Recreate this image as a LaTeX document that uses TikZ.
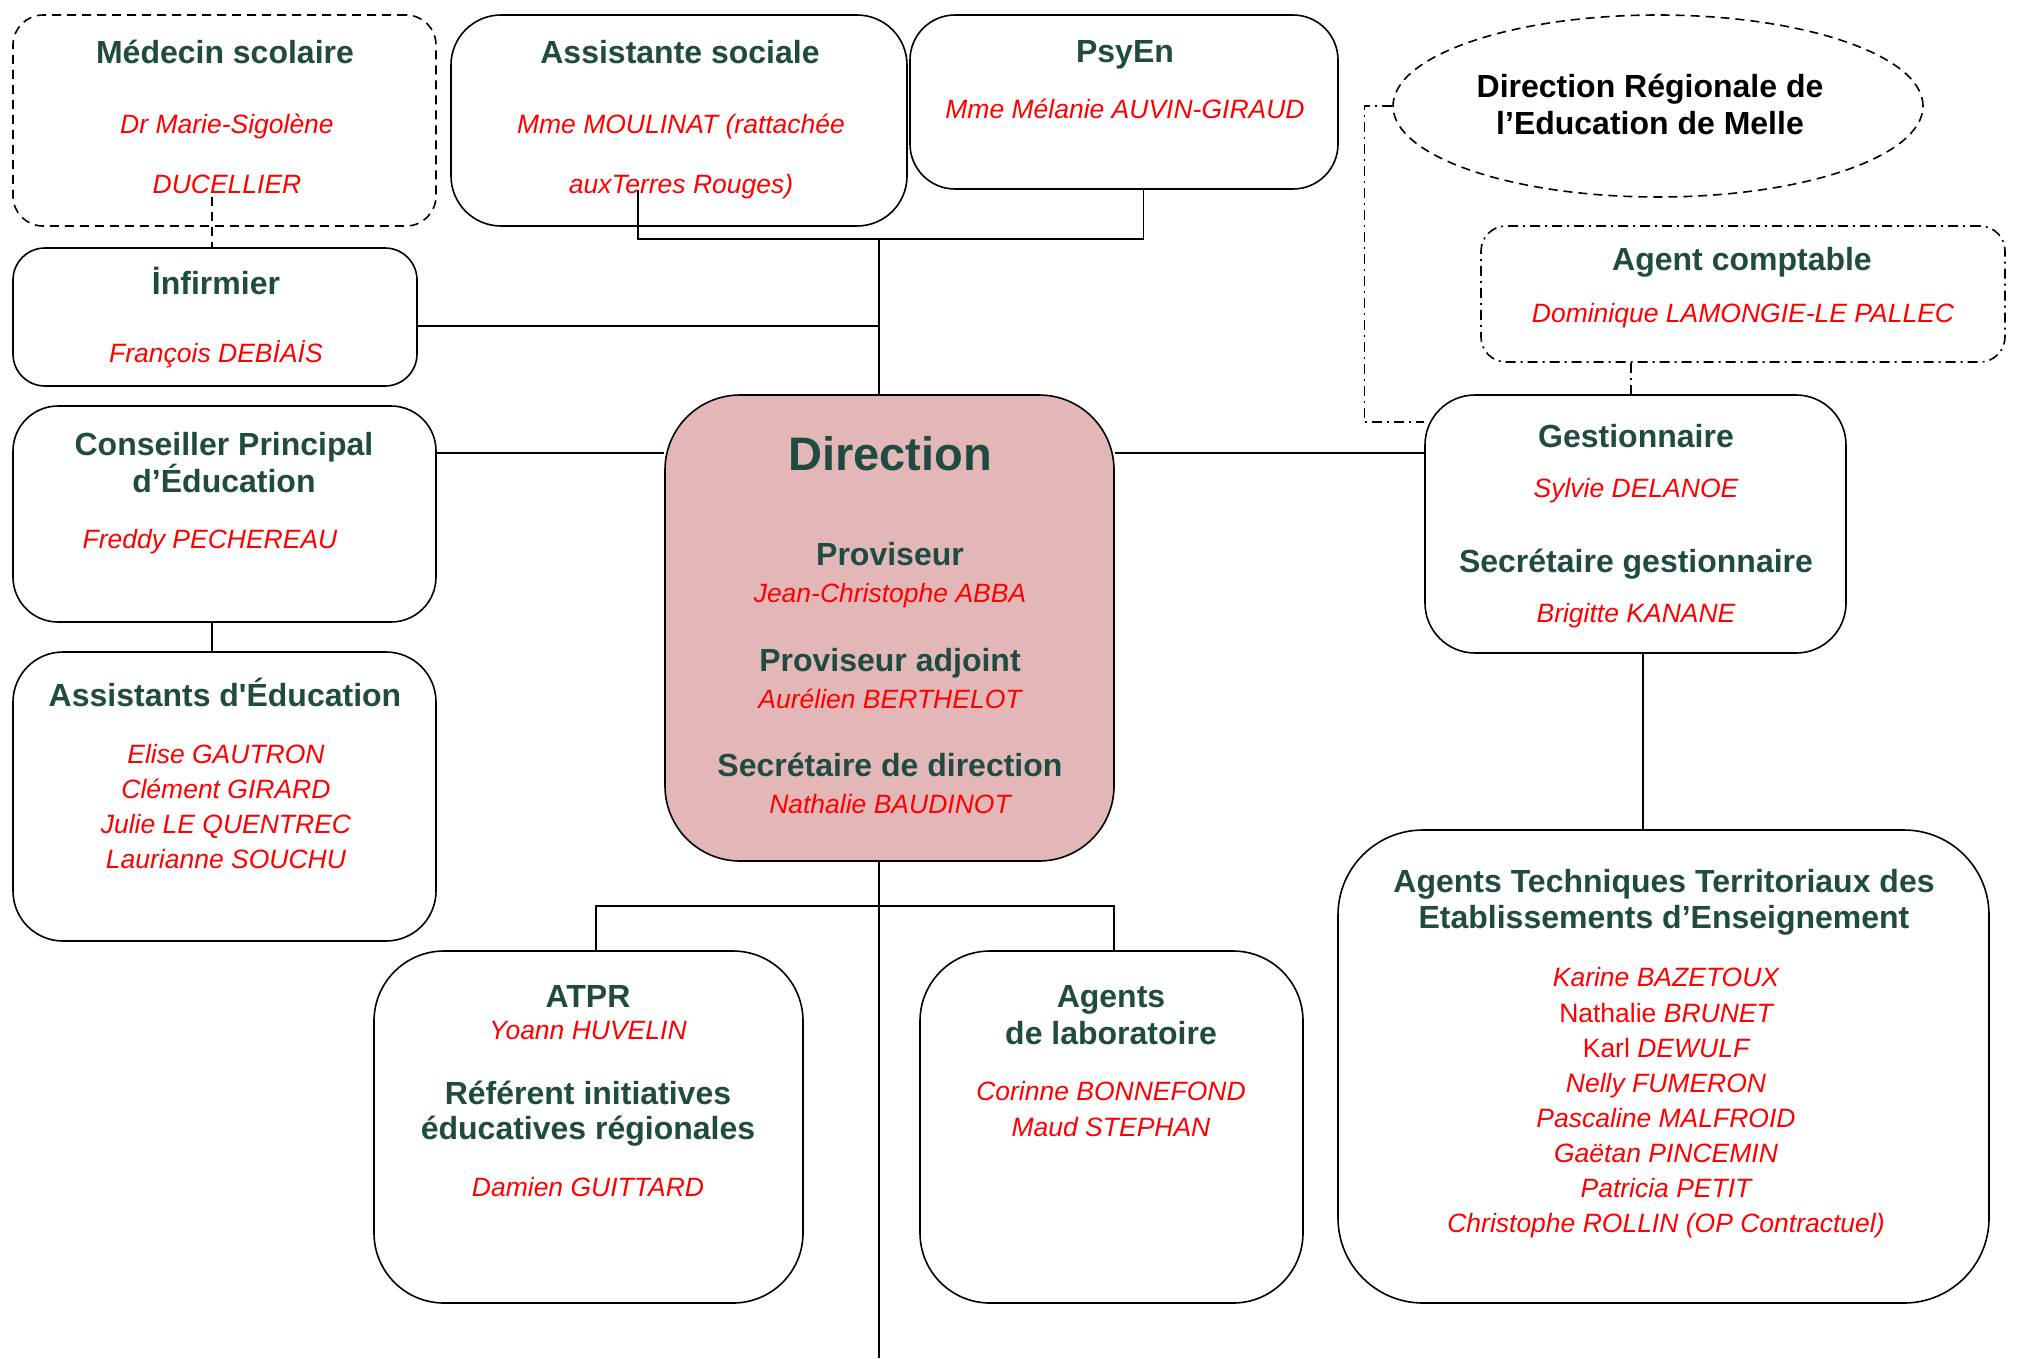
\documentclass[tikz,border=0pt]{standalone}
\usepackage{fontspec}
\setmainfont{Liberation Sans}
\newfontfamily\rawfont{Liberation Sans}[Ligatures=TeXOff]
\usetikzlibrary{shapes.geometric}
\definecolor{tgreen}{HTML}{1F4B40}
\definecolor{dirpink}{HTML}{E3B7B7}
\tikzset{
  box/.style={draw, line width=1.6pt, rounded corners=#1, inner sep=0pt},
  box/.default=45pt,
  tt/.style={font=\bfseries\fontsize{32}{36}\selectfont, text=tgreen, anchor=base, inner sep=0pt},
  ttk/.style={font=\bfseries\fontsize{32}{36}\selectfont, text=black, anchor=base, inner sep=0pt},
  big/.style={font=\bfseries\fontsize{47}{50}\selectfont, text=tgreen, anchor=base, inner sep=0pt},
  nm/.style={font=\itshape\fontsize{26.5}{35}\selectfont, text=red, anchor=base, inner sep=0pt},
  conn/.style={draw, line width=1.6pt, black},
  dsh/.style={dash pattern=on 9pt off 6pt},
  dshdot/.style={dash pattern=on 10pt off 5pt on 2pt off 5pt}
}
\begin{document}
\begin{tikzpicture}[x=1pt,y=-1pt]
\useasboundingbox (0,0) rectangle (2018,1358);
% boxes
\node[box=30pt, dsh, minimum width=423pt, minimum height=211pt] (medecin) at (224.5,120.5) {};
\node[box=50pt, minimum width=456pt, minimum height=211pt] (assist) at (679,120.5) {};
\node[box=45pt, minimum width=428pt, minimum height=174pt] (psyen) at (1124,102) {};
\node[draw, dsh, line width=1.6pt, ellipse, inner sep=0pt, minimum width=530pt, minimum height=182pt] (drel) at (1658,106) {};
\node[box=25pt, dshdot, minimum width=524pt, minimum height=136pt] (agentc) at (1743,294) {};
\node[box=32pt, minimum width=404pt, minimum height=138pt] (infirmier) at (215,317) {};
\node[box=45pt, minimum width=423pt, minimum height=216pt] (cpe) at (224.5,514) {};
\node[box=50pt, minimum width=423pt, minimum height=289pt] (assistants) at (224.5,796.5) {};
\node[box=75pt, fill=dirpink, minimum width=449pt, minimum height=466pt] (direction) at (889.5,628) {};
\node[box=50pt, minimum width=421pt, minimum height=258pt] (gest) at (1635.5,524) {};
\node[box=85pt, minimum width=651pt, minimum height=473pt] (atee) at (1663.5,1066.5) {};
\node[box=70pt, minimum width=429pt, minimum height=352pt] (atpr) at (588.5,1127) {};
\node[box=70pt, minimum width=383pt, minimum height=352pt] (labo) at (1111.5,1127) {};
% connectors
\coordinate (asin) at (638,190);
\coordinate (j1) at (879,239);
\coordinate (j2) at (879,326);
\coordinate (mtop) at (212,197);
\coordinate (j4) at (879,906);
\coordinate (bot) at (879,1358);
\draw[conn] (asin) |- (j1) -| ([xshift=19.5pt]psyen.south);
\draw[conn] (j1) -- (j1 |- direction.north);
\draw[conn] (j2 -| infirmier.east) -- (j2);
\draw[conn, dsh, line width=1.2pt] (mtop) -- (mtop |- infirmier.north);
\draw[conn] ([yshift=61pt]cpe.east) -- ([yshift=61pt]cpe.east -| direction.west);
\draw[conn] ([xshift=-12.5pt]cpe.south) -- ([xshift=-12.5pt]cpe.south |- assistants.north);
\draw[conn] ([yshift=175pt]direction.east) -- ([yshift=175pt]direction.east -| gest.west);
\draw[conn, dshdot, line width=1.2pt] (drel.west) -- ++(-28,0) |- ([yshift=102pt]gest.west);
\draw[conn, dshdot, line width=1.2pt] ([xshift=-112pt]agentc.south) -- ([xshift=-112pt]agentc.south |- gest.north);
\draw[conn] ([xshift=7.5pt]gest.south) -- ([xshift=7.5pt]gest.south |- atee.north);
\draw[conn] (direction.south -| bot) -- (bot);
\draw[conn] ([xshift=7.5pt]atpr.north) |- (j4) -| ([xshift=2.5pt]labo.north);
% texts
\node[tt] (t1) at (225,63) {Médecin scolaire};
\node[nm] (t2) at (227,133) {Dr Marie-Sigolène};
\node[nm] (t3) at (227,193) {DUCELLIER};
\node[tt] (t4) at (680,63) {Assistante sociale};
\node[nm] (t5) at (681,133) {Mme MOULINAT (rattachée};
\node[nm] (t6) at (681,193) {auxTerres Rouges)};
\node[tt] (t7) at (1125,62) {PsyEn};
\node[nm] (t8) at (1125,118) {Mme Mélanie AUVIN-GIRAUD};
\node[ttk] (t9) at (1650,97) {Direction Régionale de};
\node[ttk] (t10) at (1650,134) {l’Education de Melle};
\node[tt] (t11) at (1742,270) {Agent comptable};
\node[nm] (t12) at (1743,322) {Dominique LAMONGIE-LE PALLEC};
\node[tt] (t13) at (216,294) {İnfirmier};
\node[nm] (t14) at (216,362) {François DEBİAİS};
\node[tt] (t15) at (224,455) {Conseiller Principal};
\node[tt] (t16) at (224,492) {d’Éducation};
\node[nm] (t17) at (210,548) {Freddy PECHEREAU};
\node[tt] (t18) at (225,706) {Assistants d{\rawfont'}Éducation};
\node[nm] (t19) at (226,763) {Elise GAUTRON};
\node[nm] (t20) at (226,798) {Clément GIRARD};
\node[nm] (t21) at (226,833) {Julie LE QUENTREC};
\node[nm] (t22) at (226,868) {Laurianne SOUCHU};
\node[big] (t23) at (890,470) {Direction};
\node[tt] (t24) at (890,565) {Proviseur};
\node[nm] (t25) at (890,602) {Jean-Christophe ABBA};
\node[tt] (t26) at (890,671) {Proviseur adjoint};
\node[nm] (t27) at (890,708) {Aurélien BERTHELOT};
\node[tt] (t28) at (890,776) {Secrétaire de direction};
\node[nm] (t29) at (890,813) {Nathalie BAUDINOT};
\node[tt] (t30) at (1636,447) {Gestionnaire};
\node[nm] (t31) at (1636,497) {Sylvie DELANOE};
\node[tt] (t32) at (1636,572) {Secrétaire gestionnaire};
\node[nm] (t33) at (1636,622) {Brigitte KANANE};
\node[tt] (t34) at (1664,892) {Agents Techniques Territoriaux des};
\node[tt] (t35) at (1664,928) {Etablissements d’Enseignement};
\node[nm] (t36) at (1666,986) {Karine BAZETOUX};
\node[nm] (t37) at (1666,1022) {{\upshape Nathalie} BRUNET};
\node[nm] (t38) at (1666,1057) {{\upshape Karl} DEWULF};
\node[nm] (t39) at (1666,1092) {Nelly FUMERON};
\node[nm] (t40) at (1666,1127) {Pascaline MALFROID};
\node[nm] (t41) at (1666,1162) {Gaëtan PINCEMIN};
\node[nm] (t42) at (1666,1197) {Patricia PETIT};
\node[nm] (t43) at (1666,1232) {Christophe ROLLIN (OP Contractuel)};
\node[tt] (t44) at (588,1007) {ATPR};
\node[nm] (t45) at (588,1039) {Yoann HUVELIN};
\node[tt] (t46) at (588,1104) {Référent initiatives};
\node[tt] (t47) at (588,1139) {éducatives régionales};
\node[nm] (t48) at (588,1196) {Damien GUITTARD};
\node[tt] (t49) at (1111,1007) {Agents};
\node[tt] (t50) at (1111,1044) {de laboratoire};
\node[nm] (t51) at (1111,1100) {Corinne BONNEFOND};
\node[nm] (t52) at (1111,1136) {Maud STEPHAN};
\end{tikzpicture}
\end{document}
